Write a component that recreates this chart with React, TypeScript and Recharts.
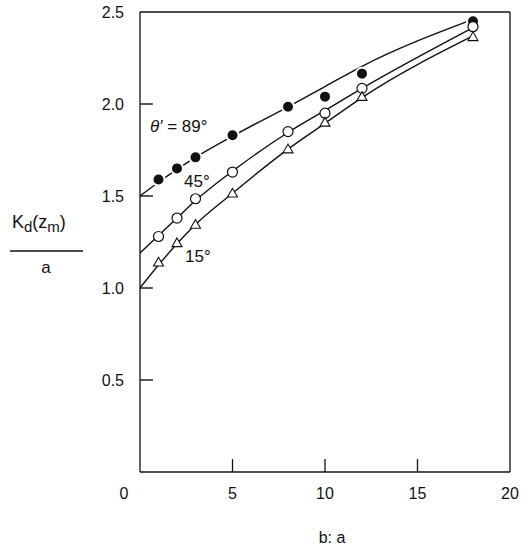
import React from 'react';
import { ComposedChart, XAxis, YAxis, Line, Scatter, ReferenceLine } from 'recharts';

// measured points, b:a ratio
const ratios = [1, 2, 3, 5, 8, 10, 12, 18];
const k89 = [1.59, 1.65, 1.71, 1.83, 1.985, 2.04, 2.165, 2.45];
const k45 = [1.28, 1.38, 1.485, 1.63, 1.85, 1.95, 2.085, 2.42];
const k15 = [1.14, 1.245, 1.345, 1.515, 1.755, 1.9, 2.04, 2.365];

// fitted curves
const fitRatios = [0, 1, 2, 3, 5, 8, 10, 12, 18];
const fit89 = [1.5, 1.575, 1.645, 1.71, 1.825, 1.985, 2.095, 2.205, 2.46];
const fit45 = [1.19, 1.285, 1.38, 1.475, 1.635, 1.845, 1.965, 2.085, 2.415];
const fit15 = [1.0, 1.125, 1.24, 1.345, 1.515, 1.755, 1.895, 2.035, 2.37];

const xTicks = [0, 5, 10, 15, 20];
const yTicks = [0.5, 1, 1.5, 2, 2.5];

const toPts = (xs: number[], ys: number[]) => xs.map((x, i) => ({ x, y: ys[i] }));

const FONT = '"Liberation Sans", Arial, sans-serif';
const INK = '#111';
// inward tick lengths in data units (~13px)
const BOTTOM_TICK_H = 0.07; // y units
const LEFT_TICK_W = 0.7; // x units

const FilledDot = (p: any) => (
  <circle cx={p.cx} cy={p.cy} r={6} fill={INK} stroke="#fff" strokeWidth={2} />
);
const OpenDot = (p: any) => (
  <circle cx={p.cx} cy={p.cy} r={5} fill="#fff" stroke={INK} strokeWidth={1.2} />
);
const Tri = (p: any) => {
  const { cx, cy } = p;
  const s = 5;
  return (
    <polygon
      points={`${cx},${cy - s} ${cx + s},${cy + s * 0.75} ${cx - s},${cy + s * 0.75}`}
      fill="#fff"
      stroke={INK}
      strokeWidth={1.1}
    />
  );
};

const XTick = (p: any) => {
  const v = p.payload.value;
  return (
    <text x={v === 0 ? p.x - 16 : p.x} y={p.y} dy="0.71em" textAnchor="middle" fontFamily={FONT} fontSize={16} fill={INK}>
      {v}
    </text>
  );
};

const YTick = (p: any) => (
  <text x={p.x} y={p.y} dy="0.355em" textAnchor="end" fontFamily={FONT} fontSize={16} fill={INK}>
    {p.payload.value.toFixed(1)}
  </text>
);

const App = () => {
  return (
    <div style={{ position: 'absolute', left: 0, top: 0, background: '#fff' }}>
      <ComposedChart width={528} height={549} margin={{ top: 12, right: 18, bottom: 47, left: 0 }}>
        <XAxis
          type="number"
          dataKey="x"
          domain={[0, 20]}
          ticks={xTicks}
          height={30}
          tickLine={false}
          tickMargin={10}
          tick={<XTick />}
          stroke={INK}
          strokeWidth={1.3}
          allowDataOverflow
        />
        <YAxis
          type="number"
          dataKey="y"
          domain={[0, 2.5]}
          ticks={yTicks}
          width={140}
          tickLine={false}
          tickMargin={10}
          tick={<YTick />}
          stroke={INK}
          strokeWidth={1.3}
          allowDataOverflow
        />
        <ReferenceLine y={2.5} stroke={INK} strokeWidth={1.3} />
        <ReferenceLine x={20} stroke={INK} strokeWidth={1.3} />
        {xTicks.slice(1, -1).map((t) => (
          <ReferenceLine key={'xt' + t} segment={[{ x: t, y: 0 }, { x: t, y: BOTTOM_TICK_H }]} stroke={INK} strokeWidth={1.3} />
        ))}
        {yTicks.slice(0, -1).map((t) => (
          <ReferenceLine key={'yt' + t} segment={[{ x: 0, y: t }, { x: LEFT_TICK_W, y: t }]} stroke={INK} strokeWidth={1.4} />
        ))}

        <Line data={toPts(fitRatios, fit89)} dataKey="y" type="monotone" stroke={INK} strokeWidth={1.4} dot={false} isAnimationActive={false} />
        <Line data={toPts(fitRatios, fit45)} dataKey="y" type="monotone" stroke={INK} strokeWidth={1.4} dot={false} isAnimationActive={false} />
        <Line data={toPts(fitRatios, fit15)} dataKey="y" type="monotone" stroke={INK} strokeWidth={1.4} dot={false} isAnimationActive={false} />

        <Scatter data={toPts(ratios, k89)} dataKey="y" shape={<FilledDot />} isAnimationActive={false} />
        <Scatter data={toPts(ratios, k45)} dataKey="y" shape={<OpenDot />} isAnimationActive={false} />
        <Scatter data={toPts(ratios, k15)} dataKey="y" shape={<Tri />} isAnimationActive={false} />

        <text fontFamily={FONT} fontSize={17} fill={INK} x={150} y={132}>
          <tspan fontStyle="italic">θ′</tspan> = 89°
        </text>
        <text fontFamily={FONT} fontSize={17} fill={INK} x={184} y={187}>45°</text>
        <text fontFamily={FONT} fontSize={17} fill={INK} x={185} y={262}>15°</text>

        <text fontFamily={FONT} fontSize={18} fill={INK} x={12} y={228}>
          K<tspan fontSize={15} dy={4}>d</tspan>
          <tspan dy={-4}>(z</tspan>
          <tspan fontSize={15} dy={4}>m</tspan>
          <tspan dy={-4}>)</tspan>
        </text>
        <line x1={10} x2={83} y1={251} y2={251} stroke={INK} strokeWidth={1.3} />
        <text fontFamily={FONT} fontSize={17} fill={INK} x={46} y={273} textAnchor="middle">a</text>

        <text fontFamily={FONT} fontSize={16} fill={INK} x={332} y={543} textAnchor="middle">b: a</text>
      </ComposedChart>
    </div>
  );
};

export default App;
